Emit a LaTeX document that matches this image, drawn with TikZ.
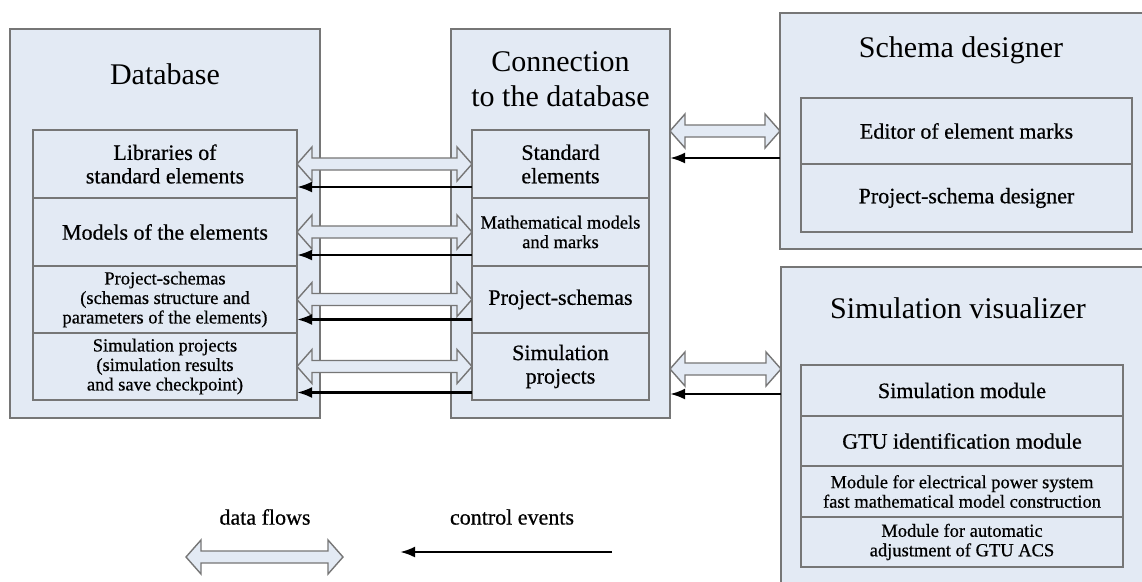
\documentclass[tikz,border=0pt]{standalone}
\usepackage{fontspec}
\setmainfont{Liberation Serif}
\newfontfamily\heavyfont{Liberation Serif}[FakeBold=0.6]
\usepackage{tikz}
\usetikzlibrary{arrows.meta,calc,positioning}

\definecolor{boxfill}{RGB}{227,234,244}
\definecolor{lineg}{RGB}{118,118,118}
\newcommand{\ttlsize}{\fontsize{30}{35}\selectfont}
\newcommand{\txtsize}{\heavyfont\fontsize{22}{23.5}\selectfont}
\newcommand{\smlsize}{\heavyfont\fontsize{18.5}{19.5}\selectfont}

\tikzset{
  frame/.style={draw=lineg,fill=boxfill,line width=1.6pt,inner sep=0pt,outer sep=0pt,anchor=north west},
  cell/.style={draw=lineg,fill=boxfill,line width=1.6pt,inner sep=2pt,outer sep=0pt,align=center,font=\txtsize},
  ttl/.style={align=center,font=\ttlsize},
  ctrl/.style={-{Latex[length=15pt,width=11pt]},line width=2.6pt,black},
  % hollow two-headed arrow between two points on one line
  dflow/.style={draw=lineg,fill=boxfill,line width=1.4pt,line join=miter,
    to path={let \p1=(\tikztostart), \p2=(\tikztotarget) in
      (\x1,\y1) -- (\x1+15pt,\y1+17pt) -- (\x1+15pt,\y1+6pt) -- (\x2-15pt,\y1+6pt)
      -- (\x2-15pt,\y1+17pt) -- (\x2,\y1) -- (\x2-15pt,\y1-17pt) -- (\x2-15pt,\y1-6pt)
      -- (\x1+15pt,\y1-6pt) -- (\x1+15pt,\y1-17pt) -- cycle}}
}

\begin{document}
\begin{tikzpicture}[x=1pt,y=-1pt]
  \useasboundingbox (0,0) rectangle (1142,581);
  \fill[white] (0,0) rectangle (1142,581);

  % outer blocks
  \node[frame,minimum width=310pt,minimum height=389pt] (db) at (10,29) {};
  \node[frame,minimum width=219pt,minimum height=389pt] (cn) at (451,29) {};
  \node[frame,minimum width=380pt,minimum height=236pt] (sd) at (780,13) {};
  \node[frame,minimum width=380pt,minimum height=340pt] (sv) at (781,267) {};

  \node[ttl] (dbtitle) at ([yshift=-45pt]db.north) {Database};
  \node[ttl] (cntitle) at ([yshift=-50pt]cn.north) {Connection\\to the database};
  \node[ttl] (sdtitle) at (961,50) {Schema designer};
  \node[ttl] (svtitle) at (958,308) {Simulation visualizer};

  % database contents
  \node[cell,minimum width=264pt,minimum height=68pt,anchor=north west] (db1) at (33,130) {Libraries of\\standard elements};
  \node[cell,minimum width=264pt,minimum height=68pt,below=0pt of db1] (db2) {Models of the elements};
  \node[cell,minimum width=264pt,minimum height=67pt,below=0pt of db2,font=\smlsize] (db3) {Project-schemas\\(schemas structure and\\parameters of the elements)};
  \node[cell,minimum width=264pt,minimum height=67pt,below=0pt of db3,font=\smlsize] (db4) {Simulation projects\\(simulation results\\and save checkpoint)};

  % connection contents
  \node[cell,minimum width=177pt,minimum height=68pt,anchor=north west] (cn1) at (472,130) {Standard\\elements};
  \node[cell,minimum width=177pt,minimum height=68pt,below=0pt of cn1,font=\smlsize] (cn2) {Mathematical models\\and marks};
  \node[cell,minimum width=177pt,minimum height=67pt,below=0pt of cn2] (cn3) {Project-schemas};
  \node[cell,minimum width=177pt,minimum height=67pt,below=0pt of cn3] (cn4) {Simulation\\projects};

  % schema designer contents
  \node[cell,minimum width=331pt,minimum height=66pt,anchor=north west] (sd1) at (801,98) {Editor of element marks};
  \node[cell,minimum width=331pt,minimum height=68pt,below=0pt of sd1] (sd2) {Project-schema designer};

  % visualizer contents
  \node[cell,minimum width=322pt,minimum height=51pt,anchor=north west] (sv1) at (801,365) {Simulation module};
  \node[cell,minimum width=322pt,minimum height=50pt,below=0pt of sv1] (sv2) {GTU identification module};
  \node[cell,minimum width=322pt,minimum height=51pt,below=0pt of sv2,font=\smlsize] (sv3) {Module for electrical power system\\fast mathematical model construction};
  \node[cell,minimum width=322pt,minimum height=50pt,below=0pt of sv3,font=\smlsize] (sv4) {Module for automatic\\adjustment of GTU ACS};

  % links database <-> connection
  \foreach \r/\d in {1/23,2/23,3/20,4/26} {
    \draw[dflow] (db\r.east) to (cn\r.west);
    \coordinate (c\r) at ([yshift=-\d pt]cn\r.west);
    \draw[ctrl] (c\r) -- (c\r -| db\r.east);
  }

  % links connection <-> designer and visualizer
  \draw[dflow] (cn.east |- sd.west) to (sd.west);
  \coordinate (sdc) at ([yshift=-27pt]sd.west);
  \draw[ctrl] (sdc) -- (sdc -| cn.east);
  \coordinate (svd) at ([yshift=-102pt]sv.north west);
  \draw[dflow] (svd -| cn.east) to (svd);
  \coordinate (svc) at ([yshift=-127pt]sv.north west);
  \draw[ctrl] (svc) -- (svc -| cn.east);

  % legend
  \node[font=\txtsize] (lgdata) at (265,517) {data flows};
  \coordinate (lgA) at (186,557);
  \coordinate (lgB) at (343,557);
  \draw[dflow] (lgA) to (lgB);
  \node[font=\txtsize] (lgctrl) at (512,517) {control events};
  \coordinate (lgC) at (612,552);
  \coordinate (lgD) at (400,552);
  \draw[ctrl] (lgC) -- (lgD);
\end{tikzpicture}
\end{document}
